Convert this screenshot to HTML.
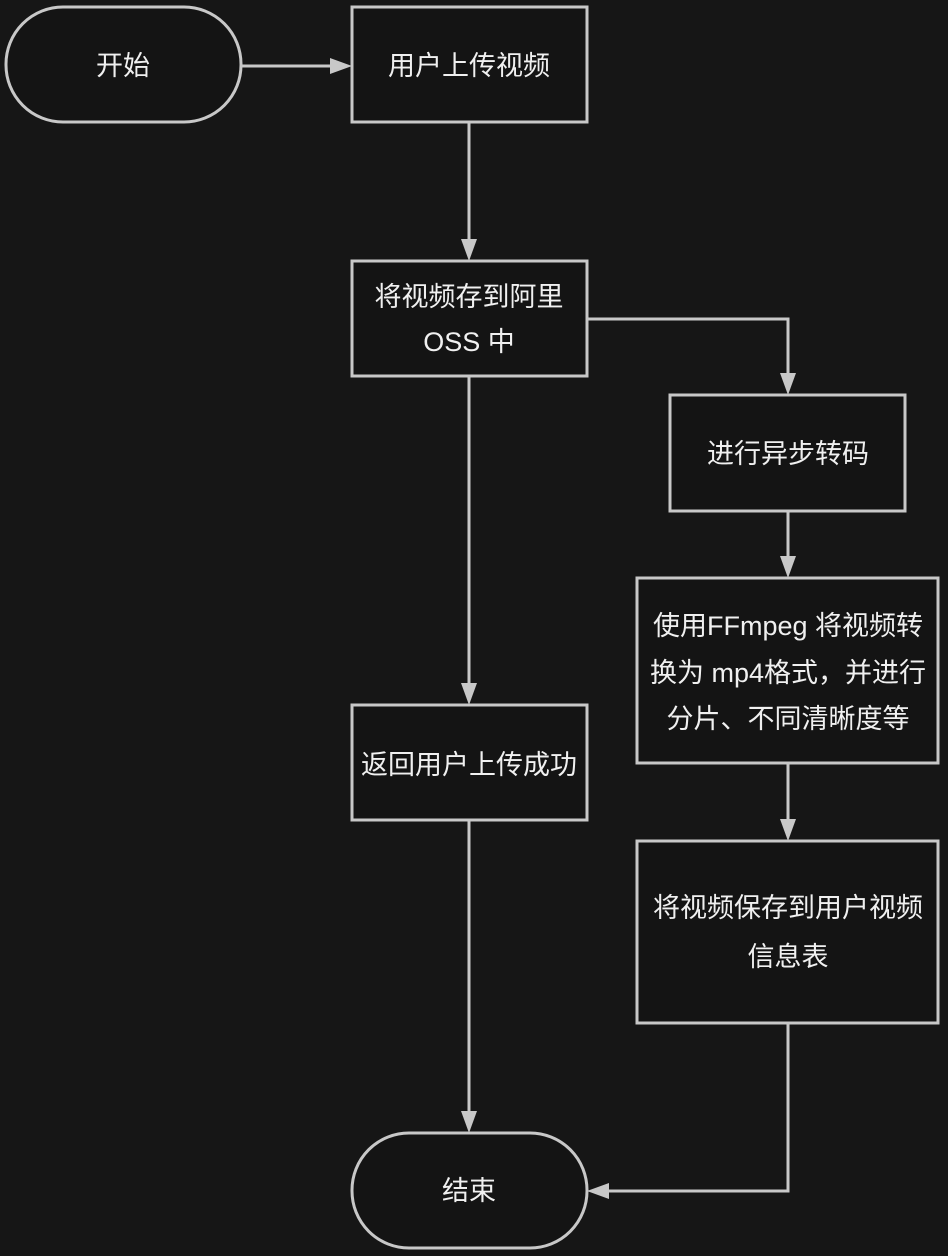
<!DOCTYPE html>
<html><head><meta charset="utf-8"><style>
html,body{margin:0;padding:0;background:#161616;}
svg{display:block}
text{font-family:"Liberation Sans","Noto Sans CJK SC",sans-serif;font-size:27px;fill:#f0f0f0;text-anchor:middle;dominant-baseline:central}
</style></head><body>
<svg width="948" height="1256" viewBox="0 0 948 1256">
<g fill="#141414" stroke="#c8c8c8" stroke-width="3">
<rect x="6" y="7" width="235" height="115" rx="57"/>
<rect x="352" y="7" width="235" height="115"/>
<rect x="352" y="261" width="235" height="115"/>
<rect x="670" y="395" width="235" height="116"/>
<rect x="637" y="578" width="301" height="185"/>
<rect x="637" y="841" width="301" height="182"/>
<rect x="352" y="705" width="235" height="115"/>
<rect x="352" y="1133" width="235" height="115" rx="57"/>
</g>
<g fill="none" stroke="#c8c8c8" stroke-width="3">
<path d="M241 66H332"/>
<path d="M469 122V241"/>
<path d="M587 319H788V375"/>
<path d="M788 511V558"/>
<path d="M788 763V820"/>
<path d="M788 1023V1191H608"/>
<path d="M469 376V685"/>
<path d="M469 820V1113"/>
</g>
<g fill="#c8c8c8">
<path d="M352 66l-22-8v16z"/>
<path d="M469 261l-8-22h16z"/>
<path d="M788 395l-8-22h16z"/>
<path d="M788 578l-8-22h16z"/>
<path d="M788 841l-8-22h16z"/>
<path d="M587 1191l22-8v16z"/>
<path d="M469 705l-8-22h16z"/>
<path d="M469 1133l-8-22h16z"/>
</g>
<text x="123" y="66">开始</text>
<text x="469" y="66">用户上传视频</text>
<text x="469" y="297">将视频存到阿里</text>
<text x="469" y="342">OSS 中</text>
<text x="788" y="454">进行异步转码</text>
<text x="788" y="626">使用FFmpeg 将视频转</text>
<text x="788" y="673">换为 mp4格式，并进行</text>
<text x="788" y="719">分片、不同清晰度等</text>
<text x="788" y="908">将视频保存到用户视频</text>
<text x="788" y="957">信息表</text>
<text x="469" y="765">返回用户上传成功</text>
<text x="469" y="1191">结束</text>
</svg>
</body></html>
